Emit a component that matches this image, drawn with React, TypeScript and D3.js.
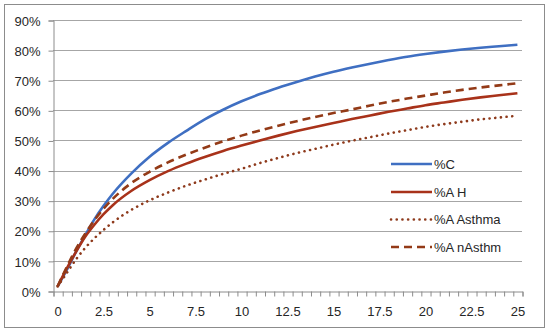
import React, { useRef, useEffect } from "react";
import * as d3 from "d3";

const xValues = [0, 0.5, 1, 1.5, 2, 2.5, 3, 4, 5, 6, 7, 8, 9, 10, 11, 12, 13, 14, 15, 16, 17, 18, 19, 20, 21, 22, 23, 24, 25];
const pctC = [1.5, 7, 13, 18.5, 23.8, 28.3, 32.3, 39, 44.6, 49.2, 53.2, 57, 60.2, 63, 65.4, 67.5, 69.4, 71.2, 72.8, 74.2, 75.5, 76.7, 77.8, 78.7, 79.5, 80.2, 80.8, 81.3, 81.8];
const pctAH = [1.5, 7.5, 13, 18, 22, 25.5, 28.5, 33.2, 36.8, 39.8, 42.3, 44.5, 46.5, 48.3, 50, 51.6, 53.1, 54.5, 55.8, 57.1, 58.3, 59.5, 60.6, 61.7, 62.6, 63.5, 64.3, 65, 65.7];
const pctAsthma = [1.5, 6, 10.5, 14.3, 17.5, 20.3, 22.8, 26.9, 30.1, 32.7, 35, 37, 38.9, 40.6, 42.5, 44.2, 45.8, 47.2, 48.6, 49.9, 51.1, 52.3, 53.4, 54.5, 55.4, 56.2, 57, 57.6, 58.2];
const pctNAsthm = [1.5, 8, 14, 19, 23.5, 27.3, 30.6, 35.8, 39.6, 42.7, 45.3, 47.6, 49.7, 51.6, 53.3, 54.9, 56.4, 57.8, 59.1, 60.3, 61.6, 62.8, 63.9, 64.9, 65.9, 66.8, 67.6, 68.3, 69];
const yTicks = [0, 10, 20, 30, 40, 50, 60, 70, 80, 90];
const xTickLabels = ["0", "2.5", "5", "7.5", "10", "12.5", "15", "17.5", "20", "22.5", "25"];
const seriesNames = ["%C", "%A H", "%A Asthma", "%A nAsthm"];

const App = () => {
  const svgRef = useRef<SVGSVGElement>(null);
  const width = 550;
  const height = 332;

  useEffect(() => {
    const svg = d3.select(svgRef.current);
    svg.selectAll("*").remove();

    const left = 53;
    const right = 522;
    const top = 20;
    const bottom = 291;
    const font = "'Liberation Sans', Arial, sans-serif";

    const x = d3.scaleLinear().domain([-0.25, 25.25]).range([left, right]);
    const y = d3.scaleLinear().domain([0, 90]).range([bottom, top]);

    // outer frame
    svg
      .append("rect")
      .attr("x", 4.5)
      .attr("y", 4.5)
      .attr("width", 540)
      .attr("height", 323)
      .attr("fill", "white")
      .attr("stroke", "#8c8c8c")
      .attr("stroke-width", 1);

    // gridlines
    svg
      .append("g")
      .selectAll("line")
      .data(yTicks.slice(1))
      .join("line")
      .attr("x1", left)
      .attr("x2", right)
      .attr("y1", (d) => Math.round(y(d)) + 0.5)
      .attr("y2", (d) => Math.round(y(d)) + 0.5)
      .attr("stroke", "#a6a6a6")
      .attr("stroke-width", 1);

    // y axis
    const yAxis = svg
      .append("g")
      .attr("transform", `translate(${left + 0.5}, 0.5)`)
      .call(
        d3
          .axisLeft(y)
          .tickValues(yTicks)
          .tickSize(5)
          .tickPadding(8)
          .tickFormat((d) => `${d}%`)
      );
    yAxis.selectAll("text").attr("font-family", font).attr("font-size", 13).attr("fill", "#262626").attr("dy", "0.36em");

    // x axis: category-style ticks between every 0.5 step
    const boundaries = d3.range(0, 52).map((i) => -0.25 + i * 0.5);
    const xAxis = svg
      .append("g")
      .attr("transform", `translate(0.5, ${bottom + 0.5})`)
      .call(d3.axisBottom(x).tickValues(boundaries).tickSize(5).tickFormat(() => ""));
    xAxis
      .selectAll("text.lbl")
      .data(xTickLabels)
      .join("text")
      .attr("class", "lbl")
      .attr("x", (d) => x(+d))
      .attr("y", 24)
      .attr("text-anchor", "middle")
      .attr("font-family", font)
      .attr("font-size", 13)
      .attr("fill", "#262626")
      .text((d) => d);

    svg.selectAll(".domain, .tick line").attr("stroke", "#8c8c8c");

    const series = [
      { name: seriesNames[0], values: pctC, color: "#3f6fc2", dash: null, cap: "butt" },
      { name: seriesNames[1], values: pctAH, color: "#a8321a", dash: null, cap: "butt" },
      { name: seriesNames[2], values: pctAsthma, color: "#8e3a1c", dash: "0.1,5.6", cap: "round" },
      { name: seriesNames[3], values: pctNAsthm, color: "#933a17", dash: "8,5", cap: "butt" },
    ];

    const line = d3
      .line<number>()
      .x((_, i) => x(xValues[i]))
      .y((d) => y(d))
      .curve(d3.curveMonotoneX);

    series.forEach((s) => {
      const p = svg
        .append("path")
        .datum(s.values)
        .attr("fill", "none")
        .attr("stroke", s.color)
        .attr("stroke-width", 2.6)
        .attr("stroke-linecap", s.cap)
        .attr("d", line);
      if (s.dash) p.attr("stroke-dasharray", s.dash);
    });

    // legend
    const legendY = [164, 192, 219.5, 247];
    const legend = svg.append("g");
    series.forEach((s, i) => {
      const l = legend
        .append("line")
        .attr("x1", 391)
        .attr("x2", 432)
        .attr("y1", legendY[i])
        .attr("y2", legendY[i])
        .attr("stroke", s.color)
        .attr("stroke-width", 2.6)
        .attr("stroke-linecap", s.cap);
      if (s.dash) l.attr("stroke-dasharray", s.dash);
      legend
        .append("text")
        .attr("x", 434)
        .attr("y", legendY[i])
        .attr("dy", "0.36em")
        .attr("font-family", font)
        .attr("font-size", 13)
        .attr("fill", "#262626")
        .text(s.name);
    });
  }, []);

  return (
    <div>
      <svg
        ref={svgRef}
        width={width}
        height={height}
        style={{ position: "absolute", left: 0, top: 0, background: "white" }}
      />
    </div>
  );
};

export default App;
